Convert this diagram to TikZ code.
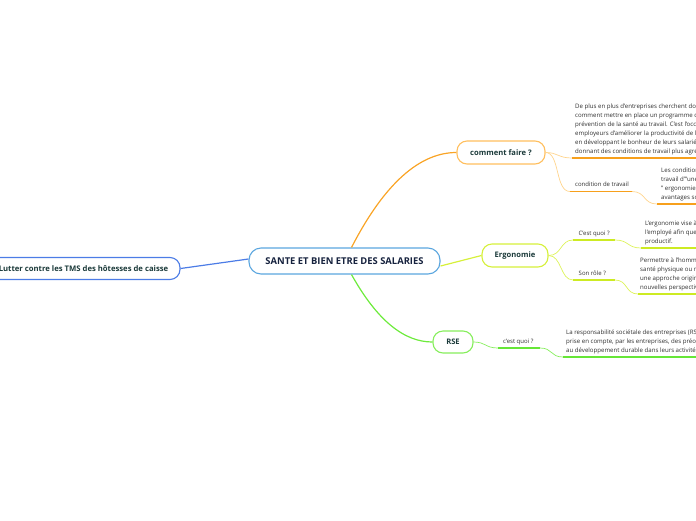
\documentclass[tikz,border=0pt]{standalone}
\usepackage{fontspec}
\setmainfont{Open Sans}
\definecolor{darktxt}{HTML}{1B3A3A}
\definecolor{navytxt}{HTML}{17233F}
\definecolor{smalltxt}{HTML}{2E2E2E}
\definecolor{orangeA}{HTML}{F9A426}
\definecolor{orangeB}{HTML}{FFBF5E}
\definecolor{orangeC}{HTML}{FFD48C}
\definecolor{orangeU}{HTML}{F7A01C}
\definecolor{yelA}{HTML}{D6F03A}
\definecolor{yelB}{HTML}{DDF35A}
\definecolor{yelU}{HTML}{CDEB23}
\definecolor{grnA}{HTML}{6DEB3C}
\definecolor{grnB}{HTML}{86EE5C}
\definecolor{grnU}{HTML}{66E637}
\definecolor{blueA}{HTML}{4C7CE6}
\definecolor{blueC}{HTML}{5BA6DF}
\tikzset{
  topic/.style={draw, rounded corners=10pt, line width=1.1pt, fill=white, inner sep=0pt,
    text=darktxt, font=\fontsize{7.6}{9}\selectfont\bfseries},
  centre/.style={topic, draw=blueC, text=navytxt, font=\fontsize{9.4}{11}\selectfont\bfseries,
    minimum width=191pt, minimum height=26pt, rounded corners=12pt},
  lab/.style={inner sep=0pt, anchor=base west, text=smalltxt, font=\fontsize{6.0}{9}\selectfont},
  para/.style={inner sep=0pt, anchor=south west, align=left, text=smalltxt, font=\fontsize{6.1}{9}\selectfont},
  mainbranch/.style={line width=1.2pt},
  subbranch/.style={line width=0.7pt},
  uline/.style={line width=1.8pt}
}
\begin{document}
\begin{tikzpicture}[x=1pt,y=-1pt]
\useasboundingbox (0,0) rectangle (696,520);
\clip (0,0) rectangle (696,520);

% main nodes
\node[centre] (c) at (344.5,261) {SANTE ET BIEN ETRE DES SALARIES};
\node[topic, draw=blueA, minimum width=193pt, minimum height=22pt, font=\fontsize{7.7}{9}\selectfont\bfseries] (l) at (83.5,268.5) {Lutter contre les TMS des hôtesses de caisse};
\node[topic, draw=orangeB, minimum width=88pt, minimum height=23pt] (cf) at (501,152.5) {comment faire ?};
\node[topic, draw=yelA, minimum width=66pt, minimum height=23pt] (er) at (515,255.5) {Ergonomie};
\node[topic, draw=grnB, minimum width=40pt, minimum height=22pt] (rse) at (453,342) {RSE};

% main branches
\coordinate (cw) at ([yshift=2pt]c.west);
\draw[mainbranch, blueA] (cw) -- (l.east);
\coordinate (ctop) at ([xshift=7pt]c.north);
\coordinate (cbot) at ([xshift=7pt]c.south);
\draw[mainbranch, orangeA] (ctop) .. controls (380,192) and (415,152.5) .. (cf.west);
\draw[mainbranch, yelA] ([yshift=-5pt]c.east) -- (er.west);
\draw[mainbranch, grnA] (cbot) .. controls (378,322) and (405,342) .. (rse.west);

% comment faire ? children
\coordinate (u1a) at (572,158);
\coordinate (u1b) at (700,158);
\draw[subbranch, orangeC] (cf.east) .. controls (558,152.5) and (558,158) .. (u1a);
\draw[uline, orangeU] (u1a) -- (u1b);
\node[para] (p1) at (575,155) {De plus en plus d'entreprises cherchent donc\\
comment mettre en place un programme de\\
prévention de la santé au travail. C'est l'occasion\\
employeurs d'améliorer la productivité de leur\\
en développant le bonheur de leurs salariés et\\
donnant des conditions de travail plus agréables.};

\coordinate (u2a) at (570,191.5);
\coordinate (u2b) at (632,191.5);
\draw[subbranch, orangeC] (cf.east) .. controls (560,152.5) and (555,191.5) .. (u2a);
\draw[uline, orangeU] (u2a) -- (u2b);
\node[lab] (t2) at (575,186.5) {condition de travail};

\coordinate (u3a) at (657,204);
\coordinate (u3b) at (700,204);
\draw[subbranch, orangeC] (u2b) .. controls (646,191.5) and (643,204) .. (u3a);
\draw[uline, orangeU] (u3a) -- (u3b);
\node[para] (p3) at (661,201.5) {Les conditions de\\
travail d'"une bonne\\
" ergonomie " sont\\
avantages sociaux};

% Ergonomie children
\coordinate (u4a) at (573,240);
\coordinate (u4b) at (615,240);
\draw[subbranch, yelB] (er.east) .. controls (562,255.5) and (560,240) .. (u4a);
\draw[uline, yelU] (u4a) -- (u4b);
\node[lab] (t4) at (578.5,235) {C'est quoi ?};

\coordinate (u5a) at (641,248);
\coordinate (u5b) at (700,248);
\draw[subbranch, yelB] (u4b) .. controls (629,240) and (627,248) .. (u5a);
\draw[uline, yelU] (u5a) -- (u5b);
\node[para] (p5) at (645,245.5) {L'ergonomie vise à adapter\\
l'employé afin que celui-ci soit\\
productif.};

\coordinate (u6a) at (573,280);
\coordinate (u6b) at (615,280);
\draw[subbranch, yelB] (er.east) .. controls (562,255.5) and (560,280) .. (u6a);
\draw[uline, yelU] (u6a) -- (u6b);
\node[lab] (t6) at (578.5,275) {Son rôle ?};

\coordinate (u7a) at (638,294);
\coordinate (u7b) at (700,294);
\draw[subbranch, yelB] (u6b) .. controls (628,280) and (625,294) .. (u7a);
\draw[uline, yelU] (u7a) -- (u7b);
\node[para] (p7) at (640,291.5) {Permettre à l'homme de\\
santé physique ou mentale\\
une approche originale\\
nouvelles perspectives};

% RSE children
\coordinate (u8a) at (498,348);
\coordinate (u8b) at (540,348);
\draw[subbranch, grnB] (rse.east) .. controls (486,342) and (485,348) .. (u8a);
\draw[uline, grnU] (u8a) -- (u8b);
\node[lab] (t8) at (503,343) {c'est quoi ?};

\coordinate (u9a) at (563,357);
\coordinate (u9b) at (700,357);
\draw[subbranch, grnB] (u8b) .. controls (553,348) and (550,357) .. (u9a);
\draw[uline, grnU] (u9a) -- (u9b);
\node[para] (p9) at (566,354.5) {La responsabilité sociétale des entreprises (RSE) est la\\
prise en compte, par les entreprises, des préoccupations liées\\
au développement durable dans leurs activités};
\end{tikzpicture}
\end{document}
